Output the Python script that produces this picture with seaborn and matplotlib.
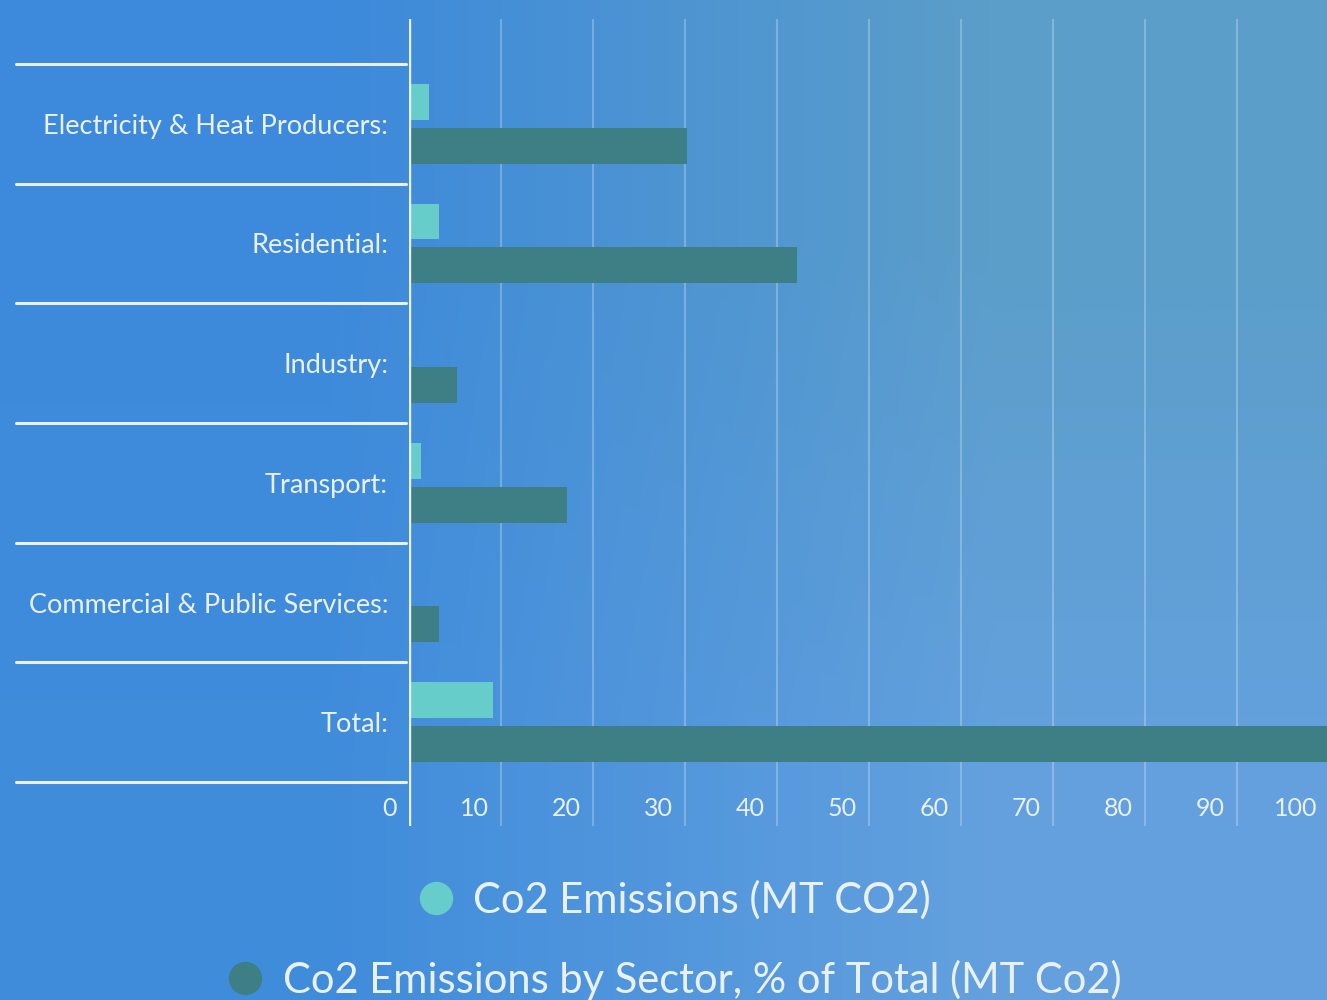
import numpy as np
import pandas as pd
import seaborn as sns
import matplotlib.pyplot as plt
from matplotlib.lines import Line2D
import matplotlib.transforms as mtransforms

sectors = ["Electricity & Heat Producers:", "Residential:", "Industry:",
           "Transport:", "Commercial & Public Services:", "Total:"]
series = ["Co2 Emissions (MT CO2)", "Co2 Emissions by Sector, % of Total (MT Co2)"]
emissions_mt = [2.2, 3.3, 0, 1.3, 0, 9.1]
share_pct = [30.2, 42.2, 5.2, 17.2, 3.3, 100]
xticks = list(range(0, 101, 10))

light = "#66cdcb"
dark = "#3e7f86"
txt = "#eaf1f6"

df = pd.DataFrame({
    "sector": sectors * 2,
    "series": [series[0]] * 6 + [series[1]] * 6,
    "value": emissions_mt + share_pct,
})

sns.set_theme(style="white")
plt.rcParams['font.family'] = ['Lato', 'DejaVu Sans']

fig = plt.figure(figsize=(13.27, 10), dpi=100)

# background gradient
bg = fig.add_axes([0, 0, 1, 1], zorder=-10)
grad = np.array([[[0.24, 0.54, 0.86], [0.36, 0.62, 0.79]],
                 [[0.25, 0.55, 0.86], [0.39, 0.63, 0.87]]])
bg.imshow(grad, aspect="auto", interpolation="bilinear", extent=[0, 1, 0, 1])
bg.axis("off")

ax = fig.add_axes([409 / 1327, 174 / 1000, 920 / 1327, 807 / 1000])
ax.set_facecolor("none")
sns.barplot(data=df, y="sector", x="value", hue="series", orient="h",
            palette=[light, dark], width=0.733, gap=0.18, saturation=1,
            linewidth=0, legend=False, ax=ax)

ax.set_xlim(0, 100)
ax.set_ylim(5.867, -0.875)
ax.set_xlabel("")
ax.set_ylabel("")
for s in ax.spines.values():
    s.set_visible(False)

ax.set_xticks(xticks)
ax.set_xticklabels([])
ax.tick_params(axis="x", length=0)
ax.grid(axis="x", color="white", alpha=0.25, lw=1.5)
ax.grid(axis="y", visible=False)
ax.set_axisbelow(True)
ax.axvline(0, color=txt, lw=2.4, zorder=5)

ax.tick_params(axis="y", length=0, pad=15, labelsize=19.5, labelcolor=txt)

# x tick labels inside the plot
off = mtransforms.offset_copy(ax.transData, fig=fig, x=-12, y=0, units="dots")
for v in xticks:
    ax.text(v, 5.717, str(v), transform=off, ha="right", va="center",
            fontsize=18, color=txt)

# row separators
tr = mtransforms.blended_transform_factory(fig.transFigure, ax.transData)
for i in range(len(sectors) + 1):
    fig.add_artist(Line2D([16 / 1327, 406 / 1327], [i - 0.5, i - 0.5],
                          transform=tr, color=txt, lw=2.2))

# legends, each line centred
for lab, col, yy in [(series[0], light, 0.100), (series[1], dark, 0.020)]:
    h = Line2D([], [], marker="o", ls="", color=col, markersize=23)
    fig.legend(handles=[h], labels=[lab], loc="center", bbox_to_anchor=(0.507, yy),
               frameon=False, fontsize=30, labelcolor=txt, handlelength=1.0,
               handletextpad=0.4, borderaxespad=0)

fig.savefig("out.png", dpi=100)
